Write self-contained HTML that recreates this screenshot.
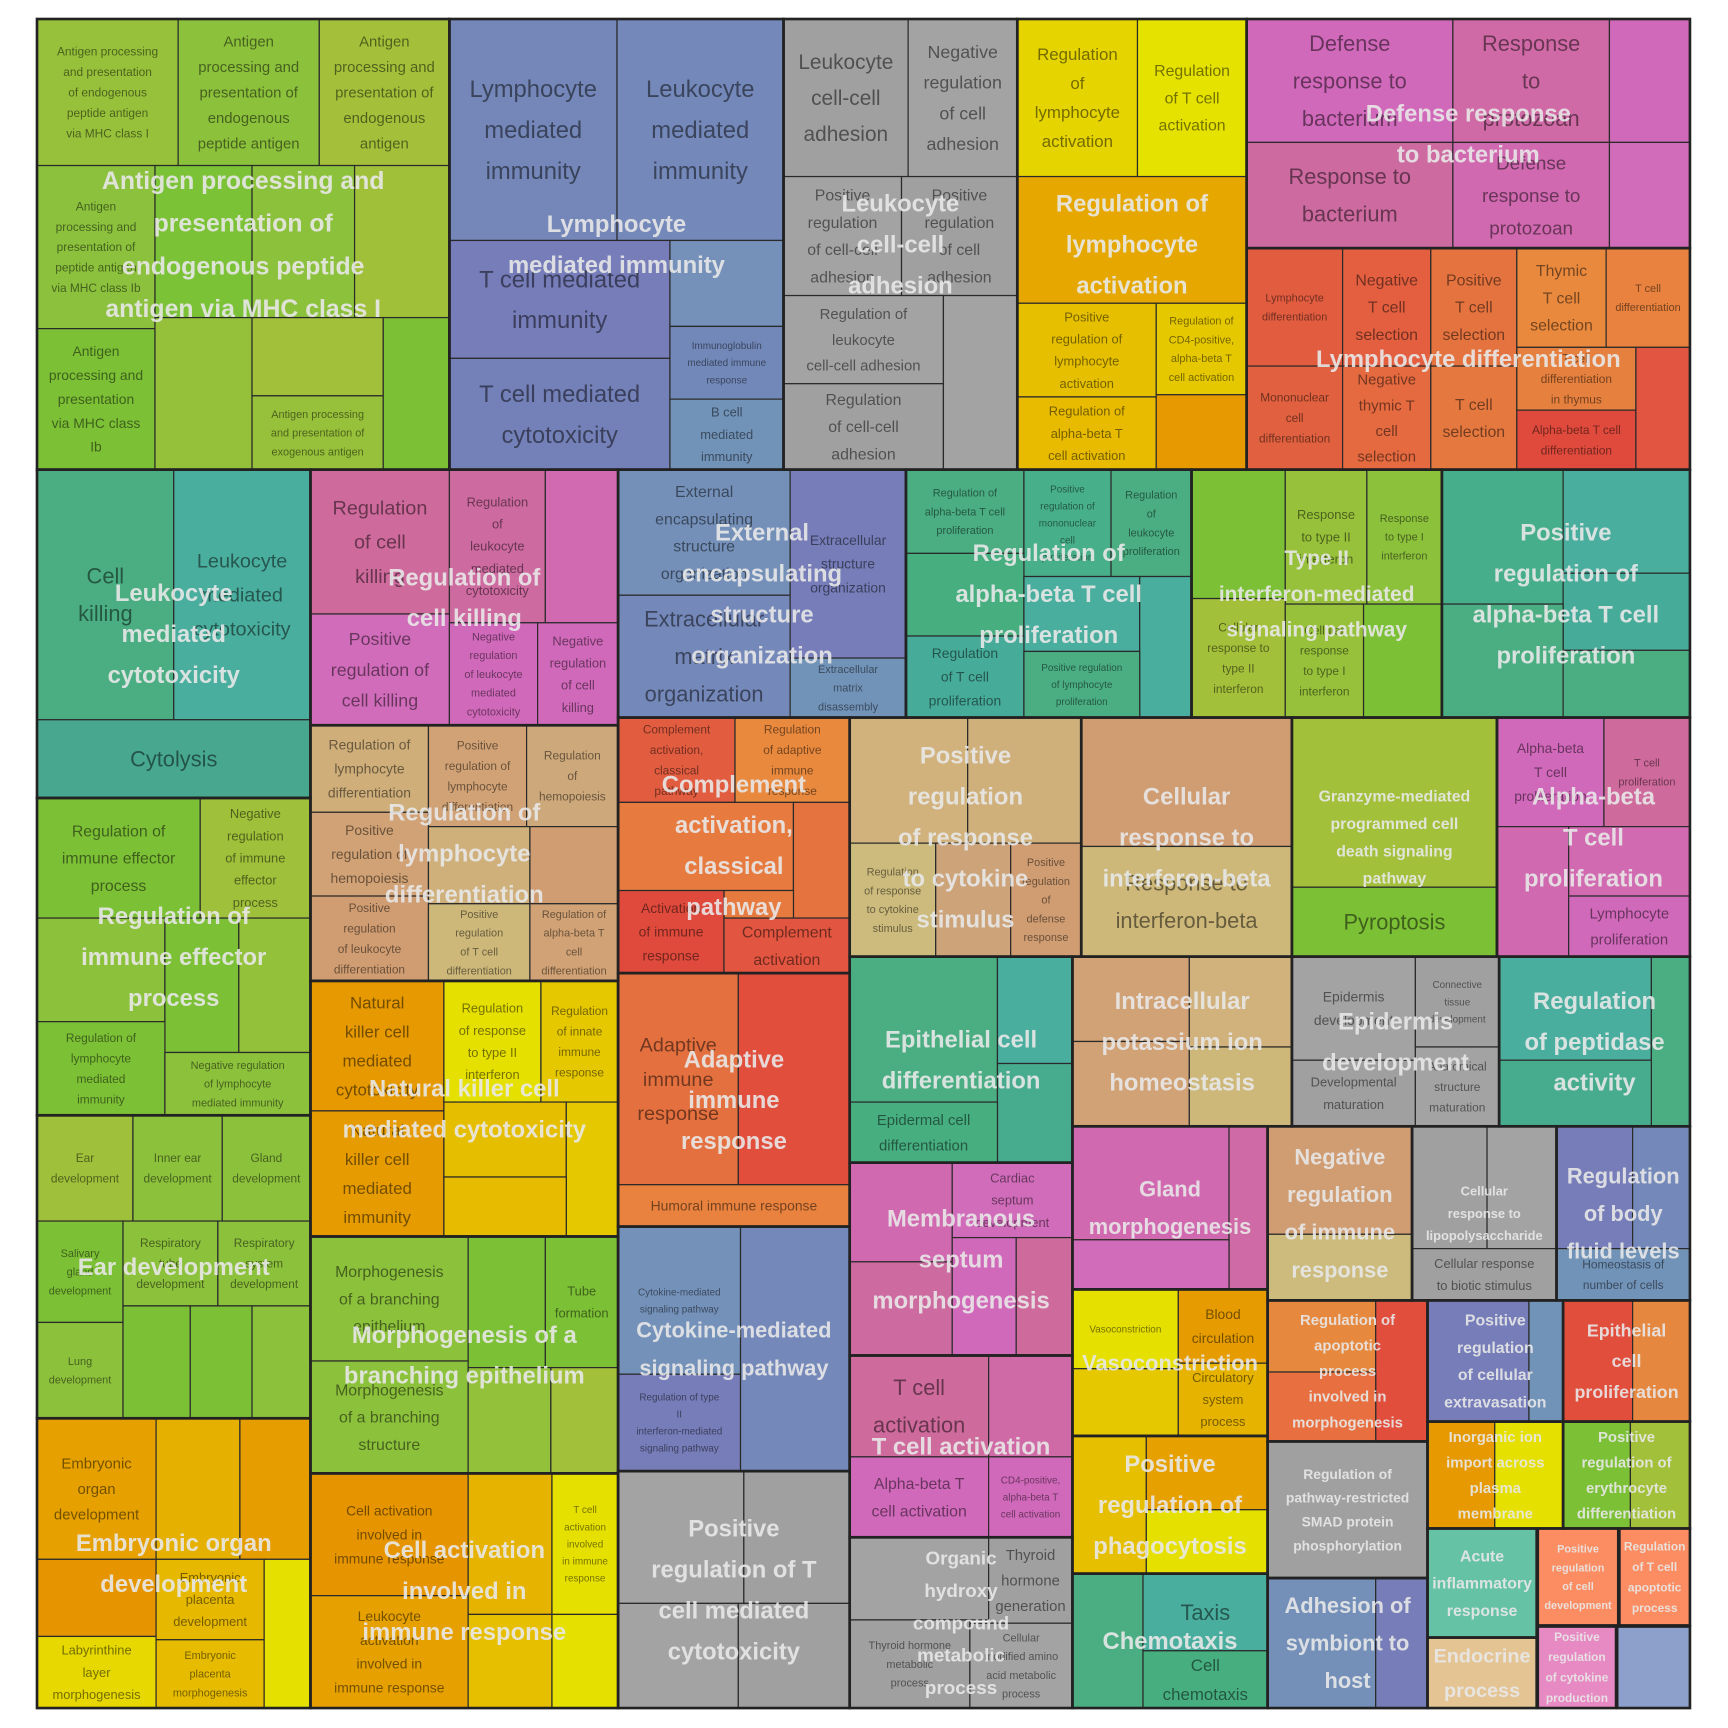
<!DOCTYPE html>
<html><head><meta charset="utf-8">
<style>
html,body{margin:0;padding:0;background:#fff;}
svg{display:block;}
text{font-family:"Liberation Sans Narrow","Liberation Sans",sans-serif;font-stretch:condensed;}
</style></head>
<body>
<svg id="chart" xmlns="http://www.w3.org/2000/svg" width="1728" height="1728" viewBox="0 0 1728 1728">
<rect x="0" y="0" width="1728" height="1728" fill="#fff"/>
<g id="plot" transform="translate(37,19) scale(1.1027,1.1018) translate(-34,-17)"></g>
</svg>
<script>
// term tiles: [x0,y0,x1,y1,color,label,fontSize]
const cells = [
[34,17,162,150,'#97c13a','Antigen processing|and presentation|of endogenous|peptide antigen|via MHC class I',12],
[162,17,290,150,'#8cc13c','Antigen|processing and|presentation of|endogenous|peptide antigen',15],
[290,17,408,150,'#a4c03a','Antigen|processing and|presentation of|endogenous|antigen',15],
[34,150,141,298,'#8bc13c','Antigen|processing and|presentation of|peptide antigen|via MHC class Ib',12],
[34,298,141,426,'#7cc036','Antigen|processing and|presentation|via MHC class|Ib',14],
[141,150,229,288,'#7bc236',''],[229,150,322,288,'#8cc13c',''],[322,150,408,288,'#a0c03a',''],
[141,288,229,426,'#95c13a',''],[229,288,348,359,'#a3c03a',''],
[229,359,348,426,'#97c13a','Antigen processing|and presentation of|exogenous antigen',11],
[348,288,408,426,'#7cc036',''],
[408,17,560,218,'#7487b8','Lymphocyte|mediated|immunity',24],
[560,17,711,218,'#7488b9','Leukocyte|mediated|immunity',24],
[408,218,608,325,'#767db8','T cell mediated|immunity',24],
[408,325,608,426,'#7480b8','T cell mediated|cytotoxicity',24],
[608,218,711,296,'#7591b9',''],
[608,296,711,362,'#7288b8','Immunoglobulin|mediated immune|response',10],
[608,362,711,426,'#7293b8','B cell|mediated|immunity',13],
[711,17,824,160,'#a0a0a0','Leukocyte|cell-cell|adhesion',21],
[824,17,923,160,'#a3a3a3','Negative|regulation|of cell|adhesion',18],
[711,160,818,268,'#a3a3a3','Positive|regulation|of cell-cell|adhesion',16],
[818,160,923,268,'#a0a0a0','Positive|regulation|of cell|adhesion',16],
[711,268,856,348,'#a3a3a3','Regulation of|leukocyte|cell-cell adhesion',15],
[711,348,856,426,'#a0a0a0','Regulation|of cell-cell|adhesion',16],
[856,268,923,426,'#a3a3a3',''],
[923,17,1032,160,'#e6d400','Regulation|of|lymphocyte|activation',17],
[1032,17,1131,160,'#e6e200','Regulation|of T cell|activation',16],
[923,160,1131,275,'#e6a800',''],
[923,275,1049,360,'#e6c000','Positive|regulation of|lymphocyte|activation',13],
[923,360,1049,426,'#e8bb00','Regulation of|alpha-beta T|cell activation',13],
[1049,275,1131,358,'#e6c800','Regulation of|CD4-positive,|alpha-beta T|cell activation',11],
[1049,358,1131,426,'#e69900',''],
[1131,17,1318,129,'#d169bb','Defense|response to|bacterium',22],
[1318,17,1460,129,'#d06aa6','Response|to|protozoan',22],
[1460,17,1533,129,'#d169bb',''],
[1131,129,1318,225,'#cd6aa0','Response to|bacterium',22],
[1318,129,1460,225,'#d069b0','Defense|response to|protozoan',19],
[1460,129,1533,225,'#d16cba',''],
[1131,225,1218,332,'#e25c40','Lymphocyte|differentiation',11],
[1218,225,1298,332,'#e35f40','Negative|T cell|selection',16],
[1298,225,1376,332,'#e5733f','Positive|T cell|selection',16],
[1376,225,1457,315,'#e8893e','Thymic|T cell|selection',16],
[1457,225,1533,315,'#e8823e','T cell|differentiation',11],
[1131,332,1218,426,'#e0603f','Mononuclear|cell|differentiation',12],
[1218,332,1298,426,'#e56a40','Negative|thymic T|cell|selection',15],
[1298,332,1376,426,'#e5783f','T cell|selection',16],
[1376,315,1484,372,'#e6803e','T cell|differentiation|in thymus',12],
[1376,372,1484,426,'#e04a3c','Alpha-beta T cell|differentiation',12],
[1484,315,1533,426,'#e25540',''],
[34,426,158,653,'#4aae82','Cell|killing',22],
[158,426,282,653,'#4aae9e','Leukocyte|mediated|cytotoxicity',20],
[34,653,282,724,'#47a88f','Cytolysis',22],
[34,724,182,833,'#7cc036','Regulation of|immune effector|process',16],
[182,724,282,833,'#9fc03a','Negative|regulation|of immune|effector|process',13],
[34,833,150,927,'#8cc13c',''],[150,833,217,955,'#7cc036',''],[217,833,282,955,'#93c13a',''],
[34,927,150,1012,'#7cc036','Regulation of|lymphocyte|mediated|immunity',12],
[150,955,282,1012,'#8cc13c','Negative regulation|of lymphocyte|mediated immunity',11],
[34,1012,121,1108,'#9fc03a','Ear|development',12],
[121,1012,202,1108,'#8cc13c','Inner ear|development',12],
[202,1012,282,1108,'#8cc13c','Gland|development',12],
[34,1108,112,1200,'#7cc036','Salivary|gland|development',11],
[34,1200,112,1287,'#8cc13c','Lung|development',11],
[112,1108,198,1185,'#8cc13c','Respiratory|tube|development',12],
[198,1108,282,1185,'#8cc13c','Respiratory|system|development',12],
[112,1185,173,1287,'#7cc036',''],[173,1185,229,1287,'#7cc036',''],[229,1185,282,1287,'#8cc13c',''],
[34,1287,142,1415,'#e6a000','Embryonic|organ|development',15],
[142,1287,218,1415,'#e6b000',''],[218,1287,282,1415,'#e69d00',''],
[34,1415,142,1485,'#e69500',''],
[34,1485,142,1550,'#e6d800','Labyrinthine|layer|morphogenesis',13],
[142,1415,240,1488,'#e6b800','Embryonic|placenta|development',13],
[142,1488,240,1550,'#e6bb00','Embryonic|placenta|morphogenesis',11],
[240,1415,282,1550,'#e6e000',''],
[282,426,408,557,'#cf6a9c','Regulation|of cell|killing',20],
[408,426,495,565,'#cd6aa0','Regulation|of|leukocyte|mediated|cytotoxicity',13],
[495,426,561,565,'#d16ab0',''],
[282,557,408,658,'#d16cbb','Positive|regulation of|cell killing',18],
[408,565,488,658,'#d169bb','Negative|regulation|of leukocyte|mediated|cytotoxicity',11],
[488,565,561,658,'#d169bb','Negative|regulation|of cell|killing',13],
[282,658,389,737,'#cfae7a','Regulation of|lymphocyte|differentiation',14],
[389,658,478,750,'#d1a275','Positive|regulation of|lymphocyte|differentiation',12],
[478,658,561,750,'#cda87a','Regulation|of|hemopoiesis',12],
[282,737,389,813,'#d1a275','Positive|regulation of|hemopoiesis',14],
[389,750,481,820,'#cfb07a',''],[481,750,561,820,'#d09d72',''],
[282,813,389,890,'#d09d72','Positive|regulation|of leukocyte|differentiation',12],
[389,820,481,890,'#cdb87a','Positive|regulation|of T cell|differentiation',11],
[481,820,561,890,'#d1a275','Regulation of|alpha-beta T|cell|differentiation',11],
[282,890,403,1008,'#e69900','Natural|killer cell|mediated|cytotoxicity',17],
[282,1008,403,1122,'#e69c00','Natural|killer cell|mediated|immunity',17],
[403,890,491,1000,'#e6e000','Regulation|of response|to type II|interferon',13],
[491,890,561,1000,'#e6c800','Regulation|of innate|immune|response',12],
[403,1000,514,1068,'#e6be00',''],[514,1000,561,1122,'#e6c800',''],[403,1068,514,1122,'#e6bb00',''],
[282,1122,425,1235,'#8cc13c','Morphogenesis|of a branching|epithelium',16],
[282,1235,425,1337,'#8cc13c','Morphogenesis|of a branching|structure',16],
[425,1122,495,1241,'#7cc036',''],
[495,1122,561,1241,'#7cc036','Tube|formation',13],
[425,1241,500,1337,'#93c13a',''],[500,1241,561,1337,'#a2c03a',''],
[282,1337,425,1448,'#e69500','Cell activation|involved in|immune response',14],
[282,1448,425,1550,'#e6a000','Leukocyte|activation|involved in|immune response',14],
[425,1337,501,1465,'#e6b300',''],[425,1465,501,1550,'#e6c000',''],
[501,1337,561,1465,'#e6e000','T cell|activation|involved|in immune|response',10],
[501,1465,561,1550,'#e6e000',''],
[561,426,717,540,'#7490b9','External|encapsulating|structure|organization',16],
[561,540,717,651,'#7488b9','Extracellular|matrix|organization',22],
[717,426,822,597,'#767db8','Extracellular|structure|organization',14],
[717,597,822,651,'#7293b8','Extracellular|matrix|disassembly',11],
[561,651,667,728,'#e25c40','Complement|activation,|classical|pathway',12],
[667,651,771,728,'#e8893e','Regulation|of adaptive|immune|response',12],
[561,728,720,808,'#e77a3f',''],[720,728,771,833,'#e5733f',''],[657,808,720,833,'#e77a3f',''],
[561,808,657,883,'#e04a3c','Activation|of immune|response',14],
[657,833,771,883,'#e25540','Complement|activation',16],
[561,883,670,1075,'#e5703f','Adaptive|immune|response',20],
[670,883,771,1075,'#e24e3c',''],
[561,1075,771,1113,'#e8823e','Humoral immune response',14],
[561,1113,672,1247,'#7491b9','Cytokine-mediated|signaling pathway',10],
[561,1247,672,1335,'#767db8','Regulation of type|II|interferon-mediated|signaling pathway',10],
[672,1113,771,1335,'#7488b9',''],
[561,1335,675,1455,'#a3a3a3',''],[675,1335,771,1455,'#a0a0a0',''],
[561,1455,670,1550,'#a3a3a3',''],[670,1455,771,1550,'#a0a0a0',''],
[822,426,929,502,'#4aae82','Regulation of|alpha-beta T cell|proliferation',11],
[929,426,1008,523,'#47b08a','Positive|regulation of|mononuclear|cell|proliferation',10],
[1008,426,1081,523,'#4aae82','Regulation|of|leukocyte|proliferation',11],
[822,502,929,577,'#47ae80',''],
[929,523,1034,591,'#4aae9e',''],
[1034,523,1081,651,'#4aae9e',''],
[822,577,929,651,'#47ab9a','Regulation|of T cell|proliferation',14],
[929,591,1034,651,'#4aae82','Positive regulation|of lymphocyte|proliferation',10],
[1081,426,1166,543,'#7cc036',''],
[1166,426,1240,548,'#97c13a','Response|to type II|interferon',13],
[1240,426,1308,548,'#8cc13c','Response|to type I|interferon',11],
[1081,543,1166,651,'#a3c03a','Cellular|response to|type II|interferon',12],
[1166,548,1237,651,'#97c13a','Cellular|response|to type I|interferon',12],
[1237,548,1308,651,'#7cc036',''],
[1308,426,1418,548,'#47ae8c',''],[1418,426,1533,520,'#4aae9e',''],[1418,520,1533,590,'#47ab9a',''],
[1308,548,1418,651,'#4aae82',''],[1418,590,1533,651,'#4aae82',''],
[771,651,878,765,'#d1b27c',''],[878,651,981,765,'#cfb07a',''],
[771,765,849,868,'#ccbb7c','Regulation|of response|to cytokine|stimulus',11],
[849,765,917,868,'#cda47a',''],
[917,765,981,868,'#d09d72','Positive|regulation|of|defense|response',11],
[981,651,1172,768,'#d09d72',''],
[981,768,1172,868,'#cdb87a','Response to|interferon-beta',22],
[1172,651,1358,805,'#a3c03a',''],
[1172,805,1358,868,'#7cc036','Pyroptosis',22],
[1358,651,1455,750,'#d169bb','Alpha-beta|T cell|proliferation',14],
[1455,651,1533,750,'#cf6a9c','T cell|proliferation',11],
[1358,750,1423,868,'#d069b0',''],[1423,750,1533,813,'#d16ab0',''],
[1423,813,1533,868,'#d169bb','Lymphocyte|proliferation',15],
[771,868,905,1000,'#4aae82',''],[905,868,973,965,'#4aae9e',''],[905,965,973,1055,'#47ab8e',''],
[771,1000,905,1055,'#47ae80','Epidermal cell|differentiation',15],
[973,868,1079,945,'#d1a275',''],[1079,868,1172,950,'#d1b27c',''],
[973,945,1079,1022,'#d1a275',''],[1079,950,1172,1022,'#cdb87a',''],
[1172,868,1284,962,'#a3a3a3','Epidermis|development',14],
[1284,868,1360,950,'#a0a0a0','Connective|tissue|development',10],
[1172,962,1284,1022,'#a0a0a0','Developmental|maturation',13],
[1284,950,1360,1022,'#a3a3a3','Anatomical|structure|maturation',12],
[1360,868,1498,962,'#4aae9e',''],[1498,868,1533,1022,'#4aae82',''],[1360,962,1498,1022,'#47ab8e',''],
[771,1055,864,1145,'#d069b0',''],
[864,1055,973,1123,'#d16cbb','Cardiac|septum|development',13],
[771,1145,864,1230,'#cd6aa0',''],[864,1123,922,1230,'#d169bb',''],[922,1123,973,1230,'#cf6a9c',''],
[771,1230,897,1322,'#cf6a9c','T cell|activation',22],
[897,1230,973,1322,'#d06aa6',''],
[771,1322,897,1395,'#d169bb','Alpha-beta T|cell activation',16],
[897,1322,973,1395,'#d169bb','CD4-positive,|alpha-beta T|cell activation',10],
[771,1395,897,1470,'#a3a3a3',''],
[897,1395,973,1473,'#a0a0a0','Thyroid|hormone|generation',15],
[771,1470,880,1550,'#a0a0a0','Thyroid hormone|metabolic|process',11],
[880,1473,973,1550,'#a3a3a3','Cellular|modified amino|acid metabolic|process',11],
[973,1022,1115,1125,'#d069b0',''],[1115,1022,1150,1170,'#d06aa6',''],[973,1125,1115,1170,'#d16cbb',''],
[1150,1022,1281,1120,'#d09d72',''],[1150,1120,1281,1180,'#ccbb7c',''],
[1281,1022,1349,1133,'#a0a0a0',''],[1349,1022,1412,1133,'#a3a3a3',''],
[1281,1133,1412,1180,'#a0a0a0','Cellular response|to biotic stimulus',13],
[1412,1022,1481,1133,'#767db8',''],[1481,1022,1533,1133,'#7488b9',''],
[1412,1133,1533,1180,'#7293b8','Homeostasis of|number of cells',12],
[973,1170,1069,1242,'#e6e000','Vasoconstriction',10],
[1069,1170,1150,1237,'#e69c00','Blood|circulation',14],
[973,1242,1069,1303,'#e6c800',''],
[1069,1237,1150,1303,'#e6b300','Circulatory|system|process',13],
[973,1303,1040,1428,'#e6c000',''],[1040,1303,1150,1370,'#e6a000',''],[1040,1370,1150,1428,'#e6e000',''],
[973,1428,1037,1550,'#4aae82',''],
[1037,1428,1150,1498,'#4aae9e','Taxis',22],
[1037,1498,1150,1550,'#47ae80','Cell|chemotaxis',17],
[1150,1180,1248,1245,'#e6893e',''],[1248,1180,1295,1308,'#e24e3c',''],[1150,1245,1248,1308,'#e87040',''],
[1295,1180,1387,1290,'#767db8',''],[1387,1180,1418,1290,'#7293b8',''],
[1418,1180,1481,1290,'#e24e3c',''],[1481,1180,1533,1290,'#e5873e',''],
[1150,1308,1295,1432,'#a0a0a0',''],
[1150,1432,1248,1550,'#7490b9',''],[1248,1432,1295,1550,'#767db8',''],
[1295,1290,1356,1387,'#e69900',''],[1356,1290,1418,1387,'#e6e000',''],
[1418,1290,1479,1387,'#7cc036',''],[1479,1290,1533,1387,'#a3c03a',''],
[1295,1387,1394,1486,'#66c2a5',''],[1295,1486,1394,1550,'#e5c494',''],
[1395,1387,1468,1475,'#fc8d62',''],[1469,1387,1533,1475,'#fc8d62',''],
[1395,1476,1466,1550,'#e78ac3',''],[1467,1476,1533,1550,'#8da0cb','']
];
// parent groups: [x0,y0,x1,y1,label,fontSize]
const groups = [
[34,17,408,426,'Antigen processing and|presentation of|endogenous peptide|antigen via MHC class I',25],
[408,17,711,426,'Lymphocyte|mediated immunity',24],
[711,17,923,426,'Leukocyte|cell-cell|adhesion',24],
[923,17,1131,426,'Regulation of|lymphocyte|activation',24],
[1131,17,1533,225,'Defense response|to bacterium',24],
[1131,225,1533,426,'Lymphocyte differentiation',24],
[34,426,282,724,'Leukocyte|mediated|cytotoxicity',24],
[34,724,282,1012,'Regulation of|immune effector|process',24],
[34,1012,282,1287,'Ear development',24],
[34,1287,282,1550,'Embryonic organ|development',24],
[282,426,561,658,'Regulation of|cell killing',24],
[282,658,561,890,'Regulation of|lymphocyte|differentiation',24],
[282,890,561,1122,'Natural killer cell|mediated cytotoxicity',24],
[282,1122,561,1337,'Morphogenesis of a|branching epithelium',24],
[282,1337,561,1550,'Cell activation|involved in|immune response',24],
[561,426,822,651,'External|encapsulating|structure|organization',24],
[561,651,771,883,'Complement|activation,|classical|pathway',24],
[561,883,771,1113,'Adaptive|immune|response',24],
[561,1113,771,1335,'Cytokine-mediated|signaling pathway',22],
[561,1335,771,1550,'Positive|regulation of T|cell mediated|cytotoxicity',24],
[822,426,1081,651,'Regulation of|alpha-beta T cell|proliferation',24],
[1081,426,1308,651,'Type II|interferon-mediated|signaling pathway',21],
[1308,426,1533,651,'Positive|regulation of|alpha-beta T cell|proliferation',24],
[771,651,981,868,'Positive|regulation|of response|to cytokine|stimulus',24],
[981,651,1172,868,'Cellular|response to|interferon-beta',24],
[1172,651,1358,868,'Granzyme-mediated|programmed cell|death signaling|pathway',16],
[1358,651,1533,868,'Alpha-beta|T cell|proliferation',24],
[771,868,973,1055,'Epithelial cell|differentiation',24],
[973,868,1172,1022,'Intracellular|potassium ion|homeostasis',24],
[1172,868,1360,1022,'Epidermis|development',24],
[1360,868,1533,1022,'Regulation|of peptidase|activity',24],
[771,1055,973,1230,'Membranous|septum|morphogenesis',24],
[771,1230,973,1395,'T cell activation',24],
[771,1395,973,1550,'Organic|hydroxy|compound|metabolic|process',19],
[973,1022,1150,1170,'Gland|morphogenesis',22],
[1150,1022,1281,1180,'Negative|regulation|of immune|response',22],
[1281,1022,1412,1180,'Cellular|response to|lipopolysaccharide',13],
[1412,1022,1533,1180,'Regulation|of body|fluid levels',22],
[973,1170,1150,1303,'Vasoconstriction',22],
[973,1303,1150,1428,'Positive|regulation of|phagocytosis',24],
[973,1428,1150,1550,'Chemotaxis',24],
[1150,1180,1295,1308,'Regulation of|apoptotic|process|involved in|morphogenesis',15],
[1295,1180,1418,1290,'Positive|regulation|of cellular|extravasation',16],
[1418,1180,1533,1290,'Epithelial|cell|proliferation',18],
[1150,1308,1295,1432,'Regulation of|pathway-restricted|SMAD protein|phosphorylation',14],
[1150,1432,1295,1550,'Adhesion of|symbiont to|host',22],
[1295,1290,1418,1387,'Inorganic ion|import across|plasma|membrane',15],
[1418,1290,1533,1387,'Positive|regulation of|erythrocyte|differentiation',15],
[1295,1387,1394,1486,'Acute|inflammatory|response',16],
[1295,1486,1394,1550,'Endocrine|process',20],
[1395,1387,1468,1475,'Positive|regulation|of cell|development',11],
[1469,1387,1533,1475,'Regulation|of T cell|apoptotic|process',12],
[1395,1476,1466,1550,'Positive|regulation|of cytokine|production',12],
[1467,1476,1533,1550,'',12]
];

const FS = 0.9;
const LHF = 1.72;
const NS = 'http://www.w3.org/2000/svg';
const plot = document.getElementById('plot');
function slug(s){return s.replace(/\|/g,' ').toLowerCase().replace(/[^a-z0-9]+/g,'-').replace(/^-|-$/g,'').slice(0,40);}
function addText(parent, cx, cy, label, fs0, lhf, fill, op, bold){
  const fs = fs0*FS;
  const lines = label.split('|');
  const lh = fs*lhf;
  const t = document.createElementNS(NS,'text');
  t.setAttribute('text-anchor','middle');
  t.setAttribute('font-size',fs);
  t.setAttribute('fill',fill);
  t.setAttribute('fill-opacity',op);
  if(bold) t.setAttribute('font-weight','bold');
  const y0 = cy - (lines.length-1)*lh/2 + fs*0.35;
  lines.forEach((ln,i)=>{
    const sp = document.createElementNS(NS,'tspan');
    sp.setAttribute('x',cx);
    sp.setAttribute('y',y0+i*lh);
    sp.textContent = ln;
    t.appendChild(sp);
  });
  parent.appendChild(t);
  return t;
}
const gCells = document.createElementNS(NS,'g');


plot.appendChild(gCells);
cells.forEach((c,i)=>{
  const [x0,y0,x1,y1,col,label,fs] = c;
  const r = document.createElementNS(NS,'rect');
  r.setAttribute('x',x0); r.setAttribute('y',y0);
  r.setAttribute('width',x1-x0); r.setAttribute('height',y1-y0);
  r.setAttribute('fill',col); r.setAttribute('stroke','#2a2a2a'); r.setAttribute('stroke-width','1.1');
  
  
  gCells.appendChild(r);
  if(label){
    const t = addText(gCells,(x0+x1)/2,(y0+y1)/2,label,fs,LHF,'#000',0.5,false);
    
    
  }
});
const gBorders = document.createElementNS(NS,'g');


plot.appendChild(gBorders);
groups.forEach((g,i)=>{
  const [x0,y0,x1,y1] = g;
  const r = document.createElementNS(NS,'rect');
  r.setAttribute('x',x0); r.setAttribute('y',y0);
  r.setAttribute('width',x1-x0); r.setAttribute('height',y1-y0);
  r.setAttribute('fill','none'); r.setAttribute('stroke','#222'); r.setAttribute('stroke-width','2.4');
  
  
  gBorders.appendChild(r);
});
const gLabels = document.createElementNS(NS,'g');


plot.appendChild(gLabels);
groups.forEach((g,i)=>{
  const [x0,y0,x1,y1,label,fs] = g;
  if(!label) return;
  const t = addText(gLabels,(x0+x1)/2,(y0+y1)/2,label,fs,LHF,'#e8e8e8',0.9,true);
  
  
});
</script>
</body></html>
